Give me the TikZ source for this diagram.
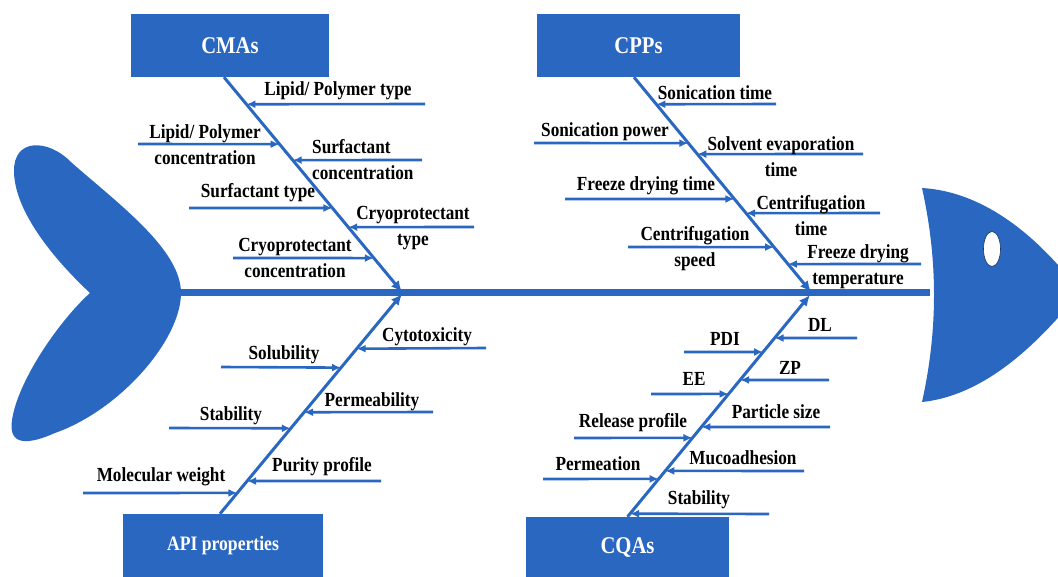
\documentclass[tikz,border=0pt]{standalone}
\usepackage{fontspec}
\setmainfont{Liberation Serif}[FakeStretch=0.86]
\usetikzlibrary{calc,arrows.meta}
\definecolor{fish-blue}{HTML}{2A67C0}

\begin{document}
\begin{tikzpicture}[x=1pt,y=-1pt,
    every node/.style={font=\fontsize{20}{26}\selectfont\bfseries, inner sep=0pt, align=center},
    catbox/.style={fill=fish-blue, text=white, minimum height=63pt, font=\fontsize{24}{28}\selectfont\bfseries},
    bone/.style={line width=3pt, color=fish-blue, -{Latex[length=11pt,width=10pt]}},
    cause/.style={line width=2.6pt, color=fish-blue, -{Latex[length=9pt,width=8pt]}}]
  \clip (0,0) rectangle (1058,577);
  % spine, tail and head
  \coordinate (tailJ) at (175,293);
  \coordinate (headJ) at (930,293);
  \draw[line width=7pt, color=fish-blue] (tailJ) -- (headJ);
  \fill[fish-blue] (90,293) .. controls (60,265) and (15,215) .. (14,172)
    .. controls (13,138) and (48,138) .. (72,163)
    .. controls (120,205) and (181,250) .. (181,293)
    .. controls (181,340) and (120,410) .. (55,433)
    .. controls (28,445) and (8,446) .. (12,420)
    .. controls (18,380) and (60,320) .. (90,293) -- cycle;
  \fill[fish-blue] (922,188) .. controls (990,192) and (1045,245) .. (1080,292)
    .. controls (1045,335) and (990,395) .. (922,402)
    .. controls (938,330) and (938,260) .. (922,188) -- cycle;
  \draw[fill=white, draw=fish-blue!50!black, line width=0.6pt] (992,249) ellipse [x radius=8.5, y radius=17.5];

  % category boxes
  \node[catbox, minimum width=198pt] (cma) at (230,45.5) {CMAs};
  \node[catbox, minimum width=203pt] (cpp) at (638.5,45.5) {CPPs};
  \node[catbox, minimum width=200pt, font=\fontsize{20.5}{24}\selectfont\bfseries] (api) at (223,545.5) {API properties};
  \node[catbox, minimum width=203pt, minimum height=60pt] (cqa) at (627.5,547) {CQAs};

  % bones
  \coordinate (cmaS) at ([xshift=-6pt]cma.south);
  \coordinate (cmaE) at (402,292);
  \coordinate (cppS) at ([xshift=-4.5pt]cpp.south);
  \coordinate (cppE) at (811,292);
  \coordinate (apiS) at ([xshift=-3pt]api.north);
  \coordinate (apiE) at (402,294);
  \coordinate (cqaS) at (cqa.north);
  \coordinate (cqaE) at (810,295);
  \draw[bone] (cmaS) -- (cmaE);
  \draw[bone] (cppS) -- (cppE);
  \draw[bone] (apiS) -- (apiE);
  \draw[bone] (cqaS) -- (cqaE);

  % CMAs
  \coordinate (lpt) at (425,104); \draw[cause] (lpt) -- ($(cmaS)!.126!(cmaE)$);
  \coordinate (lpc) at (138,144); \draw[cause] (lpc) -- ($(cmaS)!.312!(cmaE)$);
  \coordinate (suc) at (422,160); \draw[cause] (suc) -- ($(cmaS)!.386!(cmaE)$);
  \coordinate (sut) at (189,208); \draw[cause] (sut) -- ($(cmaS)!.609!(cmaE)$);
  \coordinate (cpt) at (474,227); \draw[cause] (cpt) -- ($(cmaS)!.698!(cmaE)$);
  \coordinate (cpc) at (233,258); \draw[cause] (cpc) -- ($(cmaS)!.842!(cmaE)$);
  \node (lptL) at (338,91) {Lipid/ Polymer type};
  \node (lpcL) at (205,145) {Lipid/ Polymer\\concentration};
  \node[anchor=west, align=left] (sucL) at (312,159.5) {Surfactant\\concentration};
  \node (sutL) at (258,193) {Surfactant type};
  \node (cptL) at (413,228.5) {Cryoprotectant\\type};
  \node (cpcL) at (295,258) {Cryoprotectant\\concentration};

  % CPPs
  \coordinate (sot) at (776,104); \draw[cause] (sot) -- ($(cppS)!.126!(cppE)$);
  \coordinate (sop) at (534,143); \draw[cause] (sop) -- ($(cppS)!.307!(cppE)$);
  \coordinate (sev) at (863,154); \draw[cause] (sev) -- ($(cppS)!.358!(cppE)$);
  \coordinate (fdt) at (565,199); \draw[cause] (fdt) -- ($(cppS)!.567!(cppE)$);
  \coordinate (cft) at (880,213); \draw[cause] (cft) -- ($(cppS)!.633!(cppE)$);
  \coordinate (cfs) at (628,247); \draw[cause] (cfs) -- ($(cppS)!.791!(cppE)$);
  \coordinate (fdp) at (921,264); \draw[cause] (fdp) -- ($(cppS)!.870!(cppE)$);
  \node (sotL) at (715,93) {Sonication time};
  \node (sopL) at (605,132) {Sonication power};
  \node (sevL) at (781,156.5) {Solvent evaporation\\time};
  \node (fdtL) at (646,186) {Freeze drying time};
  \node (cftL) at (811,215.5) {Centrifugation\\time};
  \node (cfsL) at (695,248.5) {Centrifugation\\speed};
  \node (fdpL) at (858,267) {Freeze drying\\temperature};

  % API properties
  \coordinate (cyt) at (486,348); \draw[cause] (cyt) -- ($(apiS)!.751!(apiE)$);
  \coordinate (sol) at (221,367); \draw[cause] (sol) -- ($(apiS)!.665!(apiE)$);
  \coordinate (per) at (433,412); \draw[cause] (per) -- ($(apiS)!.462!(apiE)$);
  \coordinate (sta) at (169,428); \draw[cause] (sta) -- ($(apiS)!.389!(apiE)$);
  \coordinate (pur) at (381,481); \draw[cause] (pur) -- ($(apiS)!.149!(apiE)$);
  \coordinate (mol) at (83,493);  \draw[cause] (mol) -- ($(apiS)!.095!(apiE)$);
  \node (cytL) at (427,337) {Cytotoxicity};
  \node (solL) at (284,355) {Solubility};
  \node (perL) at (372,402) {Permeability};
  \node (staL) at (231,416) {Stability};
  \node (purL) at (322,467) {Purity profile};
  \node (molL) at (161,477) {Molecular weight};

  % CQAs
  \coordinate (dl)  at (857,338); \draw[cause] (dl)  -- ($(cqaS)!.806!(cqaE)$);
  \coordinate (pdi) at (684,352); \draw[cause] (pdi) -- ($(cqaS)!.743!(cqaE)$);
  \coordinate (zp)  at (829,380); \draw[cause] (zp)  -- ($(cqaS)!.617!(cqaE)$);
  \coordinate (ee)  at (651,394); \draw[cause] (ee)  -- ($(cqaS)!.554!(cqaE)$);
  \coordinate (pas) at (830,427); \draw[cause] (pas) -- ($(cqaS)!.405!(cqaE)$);
  \coordinate (rel) at (574,438); \draw[cause] (rel) -- ($(cqaS)!.356!(cqaE)$);
  \coordinate (muc) at (804,471); \draw[cause] (muc) -- ($(cqaS)!.207!(cqaE)$);
  \coordinate (pme) at (543,479); \draw[cause] (pme) -- ($(cqaS)!.171!(cqaE)$);
  \coordinate (stb) at (769,514); \draw[cause] (stb) -- ($(cqaS)!.014!(cqaE)$);
  \node (dlL)  at (820,325) {DL};
  \node (pdiL) at (725,339) {PDI};
  \node (zpL)  at (790,368) {ZP};
  \node (eeL)  at (694,379) {EE};
  \node (pasL) at (776,412) {Particle size};
  \node (relL) at (633,423) {Release profile};
  \node (mucL) at (743,458) {Mucoadhesion};
  \node (pmeL) at (598,464) {Permeation};
  \node (stbL) at (699,500) {Stability};
\end{tikzpicture}
\end{document}
